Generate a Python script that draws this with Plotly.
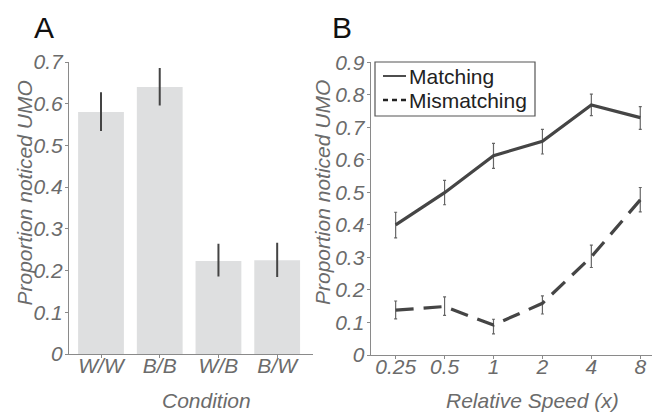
import plotly.graph_objects as go

conditions = ["W/W", "B/B", "W/B", "B/W"]
cond_vals = [0.58, 0.64, 0.223, 0.225]
cond_err_hi = [0.625, 0.683, 0.262, 0.264]
cond_err_lo = [0.537, 0.598, 0.188, 0.187]

speeds = ["0.25", "0.5", "1", "2", "4", "8"]
match_vals = [0.400, 0.499, 0.613, 0.657, 0.769, 0.730]
match_hi = [0.439, 0.537, 0.651, 0.694, 0.802, 0.764]
match_lo = [0.360, 0.462, 0.574, 0.618, 0.736, 0.694]
mis_vals = [0.138, 0.149, 0.092, 0.159, 0.302, 0.477]
mis_hi = [0.166, 0.179, 0.110, 0.182, 0.338, 0.515]
mis_lo = [0.111, 0.122, 0.065, 0.126, 0.269, 0.440]

W, H = 652, 412
FONT = "Liberation Sans, Arial, Helvetica, sans-serif"
GRAY_TXT = "#6b6b6b"
AX = "#8a8a8a"
LINE = "#454545"


def px(x):
    return x / W


def py(y):
    return 1 - y / H


fig = go.Figure()

fig.add_trace(go.Bar(
    x=conditions, y=cond_vals, marker=dict(color="#dedfe0", line=dict(width=0)),
    width=0.78, showlegend=False, xaxis="x", yaxis="y",
    error_y=dict(type="data", symmetric=False,
                 array=[h - v for h, v in zip(cond_err_hi, cond_vals)],
                 arrayminus=[v - l for l, v in zip(cond_err_lo, cond_vals)],
                 color="#444444", thickness=2, width=1),
))

fig.add_trace(go.Scatter(
    x=speeds, y=match_vals, mode="lines", name="Matching", showlegend=False,
    line=dict(color=LINE, width=3.2), xaxis="x2", yaxis="y2",
    error_y=dict(type="data", symmetric=False,
                 array=[h - v for h, v in zip(match_hi, match_vals)],
                 arrayminus=[v - l for l, v in zip(match_lo, match_vals)],
                 color="#666666", thickness=1.2, width=1.5),
))
fig.add_trace(go.Scatter(
    x=speeds, y=mis_vals, mode="lines", name="Mismatching", showlegend=False,
    line=dict(color=LINE, width=3.2, dash="18px,10px"), xaxis="x2", yaxis="y2",
    error_y=dict(type="data", symmetric=False,
                 array=[h - v for h, v in zip(mis_hi, mis_vals)],
                 arrayminus=[v - l for l, v in zip(mis_lo, mis_vals)],
                 color="#666666", thickness=1.2, width=1.5),
))

tickfont = dict(family=FONT, size=21, color=GRAY_TXT, style="italic")
titlefont = dict(family=FONT, size=21, color=GRAY_TXT, style="italic")

common_axis = dict(showline=True, linecolor=AX, linewidth=1.2, ticks="outside",
                   ticklen=3, tickcolor=AX, showgrid=False, zeroline=False,
                   tickfont=tickfont, automargin=False)

fig.update_layout(
    template="none",
    width=W, height=H, margin=dict(l=0, r=0, t=0, b=0, autoexpand=False),
    plot_bgcolor="white", paper_bgcolor="white", showlegend=False,
    xaxis=dict(domain=[px(69), px(313)], anchor="y", range=[-0.545, 3.61],
               type="category", ticklabelstandoff=-10, **common_axis),
    yaxis=dict(domain=[py(354), py(62)], anchor="x", range=[0, 0.7],
               tickvals=[0, 0.1, 0.2, 0.3, 0.4, 0.5, 0.6, 0.7],
               ticktext=["0", "0.1", "0.2", "0.3", "0.4", "0.5", "0.6", "0.7"],
               ticklabelstandoff=-2, **common_axis),
    xaxis2=dict(domain=[px(370.7), 1.0], anchor="y2", range=[-0.51, 5.24],
                type="category", ticklabelstandoff=-10, **common_axis),
    yaxis2=dict(domain=[py(355), py(62.3)], anchor="x2", range=[0, 0.9],
                tickvals=[0, 0.1, 0.2, 0.3, 0.4, 0.5, 0.6, 0.7, 0.8, 0.9],
                ticktext=["0", "0.1", "0.2", "0.3", "0.4", "0.5", "0.6", "0.7", "0.8", "0.9"],
                ticklabelstandoff=-2, **common_axis),
)

# manual legend (box, samples, labels)
fig.add_shape(type="rect", xref="paper", yref="paper",
              x0=px(375), x1=px(535), y0=py(116), y1=py(62),
              line=dict(color="#555555", width=1.2), fillcolor="white", layer="above")
fig.add_shape(type="line", xref="paper", yref="paper",
              x0=px(383), x1=px(406), y0=py(76), y1=py(76),
              line=dict(color="#222222", width=1.6), layer="above")
fig.add_shape(type="line", xref="paper", yref="paper",
              x0=px(383), x1=px(406), y0=py(100), y1=py(100),
              line=dict(color="#222222", width=2.4, dash="5px,4px"), layer="above")

annotations = [
    dict(text="Matching", x=px(407), y=py(76), xanchor="left", yanchor="middle",
         font=dict(family=FONT, size=21, color="#222222")),
    dict(text="Mismatching", x=px(407), y=py(100), xanchor="left", yanchor="middle",
         font=dict(family=FONT, size=21, color="#222222")),
    dict(text="A", x=px(32), y=py(9), xanchor="left", yanchor="top",
         font=dict(family=FONT, size=30, color="#111111")),
    dict(text="B", x=px(330), y=py(9), xanchor="left", yanchor="top",
         font=dict(family=FONT, size=30, color="#111111")),
    dict(text="Proportion noticed UMO", x=px(23.5), y=py(193), textangle=-90,
         xanchor="center", yanchor="middle", font=titlefont),
    dict(text="Proportion noticed UMO", x=px(322), y=py(193), textangle=-90,
         xanchor="center", yanchor="middle", font=titlefont),
    dict(text="Condition", x=px(206), y=py(400), xanchor="center", yanchor="middle",
         font=titlefont),
    dict(text="Relative Speed (x)", x=px(532), y=py(400), xanchor="center",
         yanchor="middle", font=titlefont),
]
for a in annotations:
    a.update(xref="paper", yref="paper", showarrow=False)
fig.update_layout(annotations=annotations)

fig.write_html("out.html", config={"displayModeBar": False},
               post_script="document.body.style.margin='0';document.body.style.overflow='hidden';")
